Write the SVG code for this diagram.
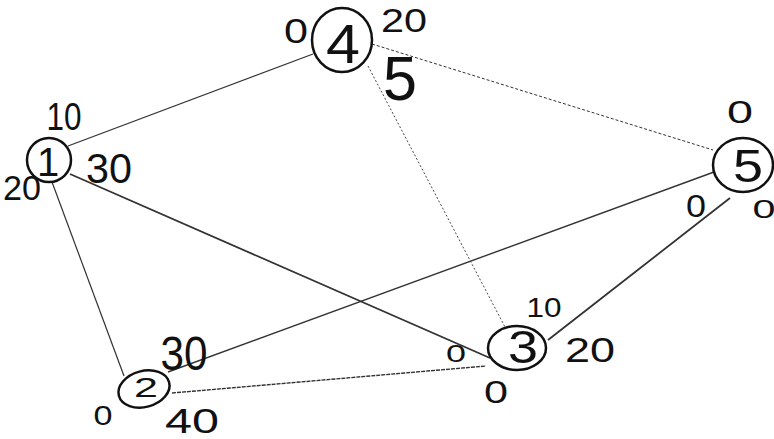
<svg xmlns="http://www.w3.org/2000/svg" width="774" height="439" viewBox="0 0 774 439">
<style>
.node{fill:none;stroke:#111;stroke-width:2.5}
text{font-family:"Liberation Sans",Arial,sans-serif;fill:#111;text-anchor:middle}
.e{stroke:#333;fill:none}
</style>
<rect width="774" height="439" fill="#fff"/>
<g id="edges">
<line class="e" x1="68" y1="146" x2="313" y2="54" stroke-width="1.3"/>
<line class="e" x1="70" y1="174" x2="490" y2="358" stroke-width="1.8"/>
<line class="e" x1="52" y1="182" x2="124" y2="376" stroke-width="1.2"/>
<line class="e" x1="372" y1="44" x2="713" y2="150" stroke-width="1" stroke-dasharray="3 2"/>
<line class="e" x1="368" y1="66" x2="505" y2="327" stroke-width="0.9" stroke-dasharray="2 2"/>
<line class="e" x1="168" y1="372" x2="714" y2="172" stroke-width="1.4"/>
<line class="e" x1="548" y1="340" x2="730" y2="198" stroke-width="1.8"/>
<line class="e" x1="172" y1="393" x2="486" y2="366" stroke-width="1.4" stroke-dasharray="4 1"/>
</g>
<g id="node4">
<ellipse class="node" cx="342" cy="40" rx="30" ry="32"/>
<text x="343" y="63" font-size="56" textLength="34" lengthAdjust="spacingAndGlyphs">4</text>
<text x="296" y="43" font-size="35" textLength="24" lengthAdjust="spacingAndGlyphs">0</text>
<text x="404" y="32" font-size="34" textLength="46" lengthAdjust="spacingAndGlyphs">20</text>
<text x="400" y="100" font-size="63" textLength="34" lengthAdjust="spacingAndGlyphs">5</text>
</g>
<g id="node1">
<ellipse class="node" cx="49" cy="160" rx="22" ry="22"/>
<text x="48" y="176" font-size="40">1</text>
<text x="64" y="130" font-size="39" textLength="35" lengthAdjust="spacingAndGlyphs">10</text>
<text x="109" y="183" font-size="42" textLength="46" lengthAdjust="spacingAndGlyphs">30</text>
<text x="22" y="200" font-size="35" textLength="38" lengthAdjust="spacingAndGlyphs">20</text>
</g>
<g id="node5">
<ellipse class="node" cx="743" cy="165" rx="30" ry="27"/>
<text x="748" y="182" font-size="47" textLength="30" lengthAdjust="spacingAndGlyphs">5</text>
<text x="740" y="123" font-size="32" textLength="26" lengthAdjust="spacingAndGlyphs">0</text>
<text x="696" y="217" font-size="31" textLength="20" lengthAdjust="spacingAndGlyphs">0</text>
<text x="764" y="218" font-size="25" textLength="23" lengthAdjust="spacingAndGlyphs">0</text>
</g>
<g id="node3">
<ellipse class="node" cx="517" cy="348" rx="29" ry="22"/>
<text x="523" y="363" font-size="46" textLength="30" lengthAdjust="spacingAndGlyphs">3</text>
<text x="544" y="317" font-size="27" textLength="35" lengthAdjust="spacingAndGlyphs">10</text>
<text x="590" y="362" font-size="35" textLength="50" lengthAdjust="spacingAndGlyphs">20</text>
<text x="456" y="362" font-size="24" textLength="20" lengthAdjust="spacingAndGlyphs">0</text>
<text x="496" y="403" font-size="32" textLength="24" lengthAdjust="spacingAndGlyphs">0</text>
</g>
<g id="node2">
<ellipse class="node" cx="144" cy="389" rx="26" ry="18" transform="rotate(-15 144 389)"/>
<text x="146" y="397" font-size="27" textLength="24" lengthAdjust="spacingAndGlyphs">2</text>
<text x="184" y="370" font-size="48" textLength="47" lengthAdjust="spacingAndGlyphs">30</text>
<text x="103" y="425" font-size="28" textLength="19" lengthAdjust="spacingAndGlyphs">0</text>
<text x="192" y="433" font-size="35" textLength="54" lengthAdjust="spacingAndGlyphs">40</text>
</g>
</svg>
